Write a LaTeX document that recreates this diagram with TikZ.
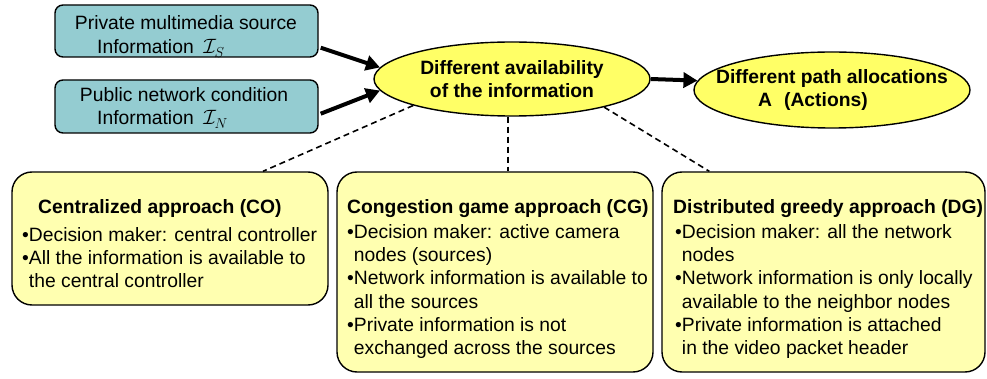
\documentclass[tikz,border=0pt]{standalone}
\usepackage{fontspec}
\setmainfont{Liberation Sans}
\usetikzlibrary{shapes.geometric,arrows.meta}
\definecolor{boxblue}{RGB}{148,204,209}
\definecolor{ellyellow}{RGB}{255,255,102}
\definecolor{boxyellow}{RGB}{255,255,176}
\newcommand{\bodyfont}{\fontsize{19.3}{23.2}\selectfont}
\newcommand{\pb}{\phantom{•}}
\begin{document}
\begin{tikzpicture}[x=1pt,y=-1pt,
  txt/.style={inner sep=0pt, font=\bodyfont},
  ttl/.style={inner sep=0pt, font=\bodyfont\bfseries},
  infobox/.style={draw=black, line width=1.4pt, fill=boxblue, rounded corners=8pt, inner sep=0pt},
  approachbox/.style={draw=black, line width=1.4pt, fill=boxyellow, rounded corners=20pt, inner sep=0pt},
  ellnode/.style={ellipse, draw=black, line width=1.4pt, fill=ellyellow, inner xsep=-20pt, inner ysep=0pt, align=center, font=\bodyfont\bfseries},
  bigarrow/.style={line width=4pt, -{Triangle[length=14pt,width=15pt]}},
  dashlink/.style={line width=1.6pt, dash pattern=on 6pt off 4pt}
]
\useasboundingbox (0,0) rectangle (987,379);

% info boxes
\node[infobox, minimum width=263pt, minimum height=52pt] (b1) at (186.5,31) {};
\node[infobox, minimum width=263pt, minimum height=53pt] (b2) at (186.5,106.5) {};
\node[txt, anchor=base] (b1a) at (186,30) {Private multimedia source};
\node[txt, anchor=base west] (b1b) at (97,54) {Information\enspace$\mathcal{I}_S$};
\node[txt, anchor=base] (b2a) at (184,102) {Public network condition};
\node[txt, anchor=base west] (b2b) at (97,125) {Information\enspace$\mathcal{I}_N$};

% ellipses
\node[ellnode, minimum width=276pt, minimum height=74pt] (e1) at (512,79)
  {Different availability\\of the information};
\node[ellnode, align=left, minimum width=276pt, minimum height=76pt] (e2) at (832,90)
  {Different path allocations\\\hspace*{42pt}$\mathbf{A}$\hspace{12pt}(Actions)};

% approach boxes
\node[approachbox, minimum width=316pt, minimum height=133pt] (co) at (170,238.5) {};
\node[approachbox, minimum width=316pt, minimum height=200pt] (cg) at (495,272) {};
\node[approachbox, minimum width=323pt, minimum height=200pt] (dg) at (823.5,272) {};

\node[ttl, anchor=base west] (cot) at (38,213.5) {Centralized approach (CO)};
\node[txt, anchor=base west] (cob) at (22,241.5) {\parbox[t]{310pt}{\bodyfont
  •Decision maker: central controller\\
  •All the information is available to\\
  \pb the central controller}};

\node[ttl, anchor=base west] (cgt) at (347,213.5) {Congestion game approach (CG)};
\node[txt, anchor=base west] (cgb) at (347,238.5) {\parbox[t]{310pt}{\bodyfont
  •Decision maker: active camera\\
  \pb nodes (sources)\\
  •Network information is available to\\
  \pb all the sources\\
  •Private information is not\\
  \pb exchanged across the sources}};

\node[ttl, anchor=base west] (dgt) at (673,213.5) {Distributed greedy approach (DG)};
\node[txt, anchor=base west] (dgb) at (675,238.5) {\parbox[t]{310pt}{\bodyfont
  •Decision maker: all the network\\
  \pb nodes\\
  •Network information is only locally\\
  \pb available to the neighbor nodes\\
  •Private information is attached\\
  \pb in the video packet header}};

% arrows
\draw[bigarrow] ([xshift=2pt,yshift=10pt]b1.south east) -- (e1.175);
\draw[bigarrow] ([xshift=2pt,yshift=20pt]b2.south east) -- (e1.185);
\draw[bigarrow] (e1.east) -- (e2.176);

% dashed links
\draw[dashlink] (e1.195) -- ([xshift=93pt]co.north);
\draw[dashlink] (e1.264) -- (e1.264 |- cg.north);
\draw[dashlink] (e1.343) -- ([xshift=48pt]dg.north west);
\end{tikzpicture}
\end{document}
